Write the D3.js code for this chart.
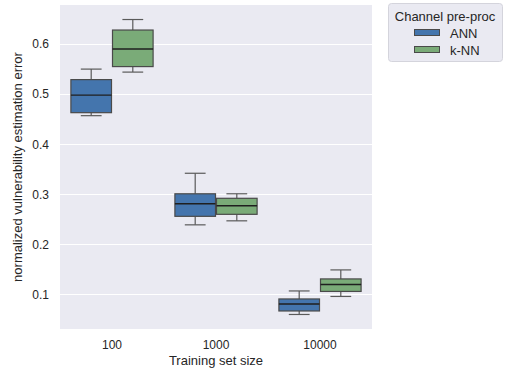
<!doctype html>
<html lang="en">
<head>
<meta charset="UTF-8">
<title>Vulnerability estimation error</title>
<script src="https://d3js.org/d3.v7.min.js"></script>
<style>
  body { margin: 0; background: #fff; }
  text { font-family: "Liberation Sans", Arial, sans-serif; fill: #262626; }
</style>
</head>
<body>
<script>
// training set sizes and the two channel pre-processing methods
const sizes = ["100", "1000", "10000"];
const methods = ["ANN", "k-NN"];
const colors = ["#4475ad", "#7aab78"];
// per size: [whisker low, q1, median, q3, whisker high]
const annStats = [
  [0.457, 0.463, 0.498, 0.529, 0.550],
  [0.239, 0.256, 0.281, 0.301, 0.342],
  [0.060, 0.067, 0.081, 0.091, 0.107]
];
const knnStats = [
  [0.544, 0.555, 0.590, 0.628, 0.649],
  [0.247, 0.260, 0.277, 0.292, 0.301],
  [0.096, 0.106, 0.120, 0.131, 0.149]
];
const yTicks = [0.1, 0.2, 0.3, 0.4, 0.5, 0.6];

const width = 505, height = 374;
const pLeft = 60, pRight = 372, pTop = 5, pBottom = 329;

const svg = d3.select("body").append("svg")
    .attr("width", width)
    .attr("height", height);

const x = d3.scaleBand().domain(sizes).range([pLeft, pRight]);
const hue = d3.scaleBand().domain(methods)
    .range([x.bandwidth() * 0.1, x.bandwidth() * 0.9]);
const y = d3.scaleLinear().domain([0.031, 0.678]).range([pBottom, pTop]);

// background + grid
svg.append("rect")
    .attr("x", pLeft).attr("y", pTop)
    .attr("width", pRight - pLeft).attr("height", pBottom - pTop)
    .attr("fill", "#eaeaf2");

svg.append("g").selectAll("line")
    .data(yTicks)
    .enter().append("line")
    .attr("x1", pLeft).attr("x2", pRight)
    .attr("y1", d => Math.round(y(d)) + 0.5)
    .attr("y2", d => Math.round(y(d)) + 0.5)
    .attr("stroke", "#fff")
    .attr("stroke-width", 1);

// axes (no tick marks, seaborn darkgrid style)
const yAxis = svg.append("g")
    .attr("transform", `translate(${pLeft},0)`)
    .call(d3.axisLeft(y).tickValues(yTicks).tickSize(0).tickPadding(11).tickFormat(d3.format(".1f")));
const xAxis = svg.append("g")
    .attr("transform", `translate(0,${pBottom})`)
    .call(d3.axisBottom(x).tickSize(0).tickPadding(11));
[yAxis, xAxis].forEach(a => {
    a.select(".domain").remove();
    a.selectAll("text").attr("font-size", 12).attr("fill", "#262626")
        .attr("font-family", "Liberation Sans, Arial, sans-serif");
});

svg.append("text")
    .attr("x", (pLeft + pRight) / 2).attr("y", 365)
    .attr("text-anchor", "middle")
    .attr("font-size", 13)
    .text("Training set size");

svg.append("text")
    .attr("transform", `translate(22,${(pTop + pBottom) / 2}) rotate(-90)`)
    .attr("text-anchor", "middle")
    .attr("font-size", 13)
    .text("normalized vulnerability estimation error");

// boxes
const boxes = [];
sizes.forEach((s, i) => {
    [annStats, knnStats].forEach((st, j) => {
        const [lo, q1, med, q3, hi] = st[i];
        boxes.push({size: s, method: methods[j], color: colors[j], lo, q1, med, q3, hi});
    });
});

const bw = hue.bandwidth();
const g = svg.append("g").selectAll("g")
    .data(boxes)
    .enter().append("g")
    .attr("transform", d => `translate(${x(d.size) + hue(d.method)},0)`);

// whiskers
g.append("line")
    .attr("x1", bw / 2).attr("x2", bw / 2)
    .attr("y1", d => y(d.hi)).attr("y2", d => y(d.q3))
    .attr("stroke", "#5a5a5a").attr("stroke-width", 1.2);
g.append("line")
    .attr("x1", bw / 2).attr("x2", bw / 2)
    .attr("y1", d => y(d.q1)).attr("y2", d => y(d.lo))
    .attr("stroke", "#5a5a5a").attr("stroke-width", 1.2);
g.append("line")
    .attr("x1", bw / 4).attr("x2", bw * 3 / 4)
    .attr("y1", d => y(d.hi)).attr("y2", d => y(d.hi))
    .attr("stroke", "#5a5a5a").attr("stroke-width", 1.2);
g.append("line")
    .attr("x1", bw / 4).attr("x2", bw * 3 / 4)
    .attr("y1", d => y(d.lo)).attr("y2", d => y(d.lo))
    .attr("stroke", "#5a5a5a").attr("stroke-width", 1.2);

g.append("rect")
    .attr("x", 0.5).attr("width", bw - 1)
    .attr("y", d => y(d.q3))
    .attr("height", d => y(d.q1) - y(d.q3))
    .attr("fill", d => d.color)
    .attr("stroke", "#4a4a4a").attr("stroke-width", 1.2);

g.append("line")
    .attr("x1", 0.5).attr("x2", bw - 0.5)
    .attr("y1", d => y(d.med)).attr("y2", d => y(d.med))
    .attr("stroke", "#1f1f1f").attr("stroke-width", 1.4);

// legend
const leg = svg.append("g");
leg.append("rect")
    .attr("x", 388.5).attr("y", 3.5)
    .attr("width", 114).attr("height", 58)
    .attr("rx", 3)
    .attr("fill", "#eaeaf2")
    .attr("stroke", "#d4d4dc");
leg.append("text")
    .attr("x", 445).attr("y", 21)
    .attr("text-anchor", "middle")
    .attr("font-size", 13)
    .text("Channel pre-proc");
methods.forEach((m, i) => {
    const cy = 33 + i * 17;
    leg.append("rect")
        .attr("x", 414.5).attr("y", cy - 3.5)
        .attr("width", 25).attr("height", 6)
        .attr("fill", colors[i])
        .attr("stroke", "#4a4a4a").attr("stroke-width", 1);
    leg.append("text")
        .attr("x", 450).attr("y", cy)
        .attr("dy", "0.35em")
        .attr("font-size", 13)
        .text(m);
});
</script>
</body>
</html>
